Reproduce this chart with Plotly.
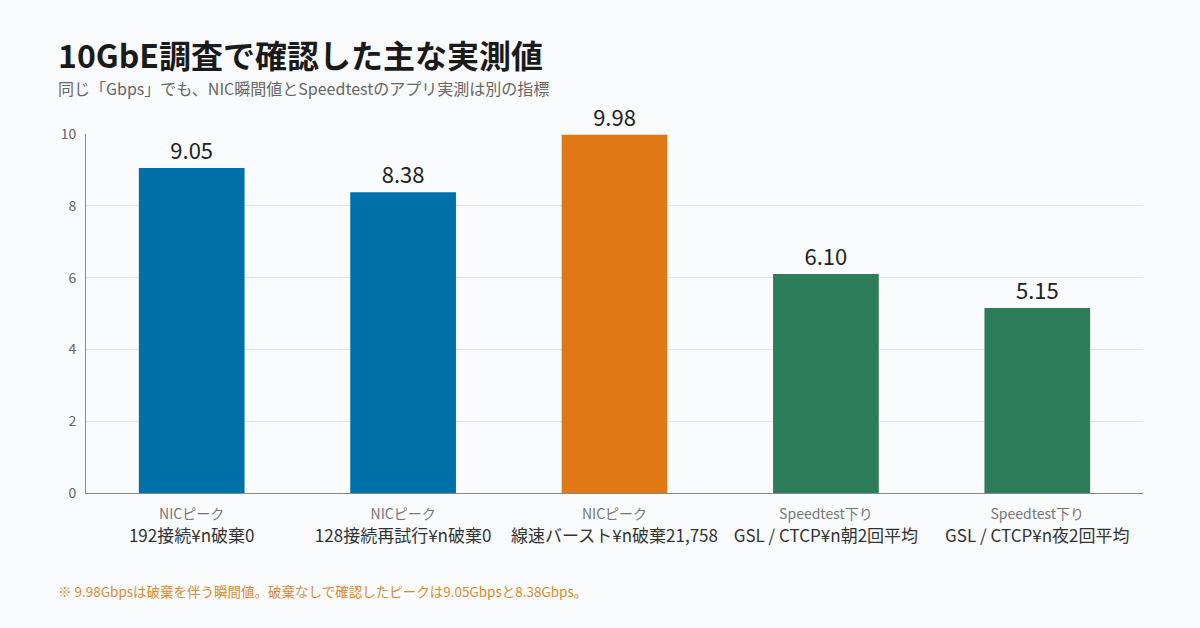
import plotly.graph_objects as go

kinds = ['NICピーク', 'NICピーク', 'NICピーク', 'Speedtest下り', 'Speedtest下り']
details = ['192接続¥n破棄0', '128接続再試行¥n破棄0', '線速バースト¥n破棄21,758',
           'GSL / CTCP¥n朝2回平均', 'GSL / CTCP¥n夜2回平均']
values = [9.05, 8.38, 9.98, 6.10, 5.15]
bar_colors = ['#0070a8', '#0070a8', '#e07816', '#2e7d5a', '#2e7d5a']

font = 'Noto Sans CJK JP'
bg = '#f9fbfc'
cats = [f'c{i}' for i in range(len(values))]
ticktext = [f"<span style='font-size:14px;color:#777777'>{k}</span><br>{d}"
            for k, d in zip(kinds, details)]

fig = go.Figure()
fig.add_trace(go.Bar(
    x=cats, y=values,
    marker=dict(color=bar_colors, line=dict(width=0)),
    text=[f'{v:.2f}' for v in values],
    textposition='outside',
    textfont=dict(size=22, color='#222222', family=font),
    cliponaxis=False,
    hoverinfo='skip',
))

fig.update_layout(
    width=1200, height=628,
    paper_bgcolor=bg, plot_bgcolor=bg,
    margin=dict(l=86, r=57, t=134, b=135),
    bargap=0.5,
    showlegend=False,
    font=dict(family=font, color='#333333'),
    xaxis=dict(tickmode='array', tickvals=cats, ticktext=ticktext,
               tickfont=dict(size=17, color='#333333'),
               showline=True, linecolor='#888888', linewidth=1,
               ticks='outside', ticklen=5, tickcolor='rgba(0,0,0,0)', showgrid=False),
    yaxis=dict(range=[0, 10], dtick=2, showgrid=True, gridcolor='#e3e6ea',
               showline=True, linecolor='#888888', linewidth=1,
               tickfont=dict(size=14, color='#666666'), ticks='outside',
               ticklen=6, tickcolor='rgba(0,0,0,0)', zeroline=False),
)

fig.add_annotation(text='<b>10GbE調査で確認した主な実測値</b>', xref='paper', yref='paper',
                   x=-0.028, y=1.0, yshift=80, xanchor='left', yanchor='middle',
                   showarrow=False, font=dict(size=32, color='#1a1a1a', family=font))
fig.add_annotation(text='同じ「Gbps」でも、NIC瞬間値とSpeedtestのアプリ実測は別の指標',
                   xref='paper', yref='paper', x=-0.028, y=1.0, yshift=46,
                   xanchor='left', yanchor='middle', showarrow=False,
                   font=dict(size=16, color='#666666', family=font))
fig.add_annotation(text='※ 9.98Gbpsは破棄を伴う瞬間値。破棄なしで確認したピークは9.05Gbpsと8.38Gbps。',
                   xref='paper', yref='paper', x=-0.028, y=0, yshift=-98,
                   xanchor='left', yanchor='middle', showarrow=False,
                   font=dict(size=13.5, color='#e08a30', family=font))

fig.write_html('out.html', config={'displayModeBar': False},
               post_script="document.body.style.margin='0';document.body.style.background='%s';" % bg)
